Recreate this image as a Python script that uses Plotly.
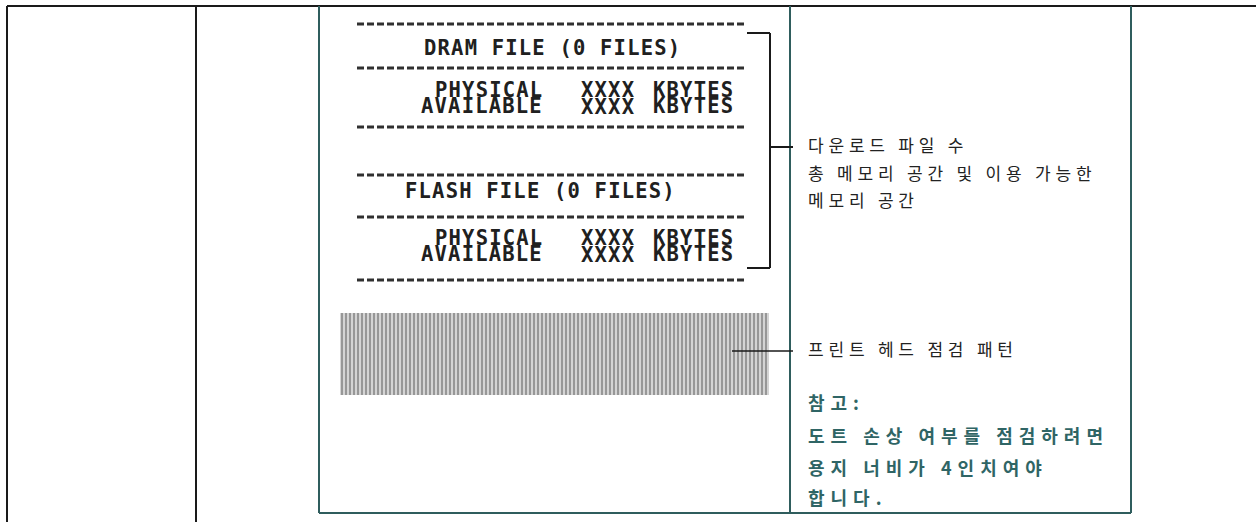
import plotly.graph_objects as go

W, H = 1256, 522

# ---- content ----
dram_title = "DRAM FILE (0 FILES)"
flash_title = "FLASH FILE (0 FILES)"
mem_labels = ["PHYSICAL", "AVAILABLE"]
mem_values = ["XXXX", "XXXX"]
mem_units = ["KBYTES", "KBYTES"]
desc_lines = ["다운로드 파일 수", "총 메모리 공간 및 이용 가능한", "메모리 공간"]
head_label = "프린트 헤드 점검 패턴"
note_title = "참고:"
note_lines = ["도트 손상 여부를 점검하려면", "용지 너비가 4인치여야", "합니다."]

TEAL = "#2f5d5d"
NOTE = "#2f6565"
INK = "#1a1a1a"

fig = go.Figure()

# print-head check pattern (striped block)
fig.add_trace(go.Scatter(
    x=[340, 769, 769, 340, 340], y=[313, 313, 395, 395, 313],
    mode="lines", fill="toself", line=dict(width=0, color="rgba(0,0,0,0)"),
    fillcolor="white",
    fillpattern=dict(shape="|", size=4, solidity=0.5, fgcolor="#5a5a5a", bgcolor="#d4d4d4"),
    hoverinfo="skip", showlegend=False))

shapes = []
def line(x0, y0, x1, y1, color=INK, width=2, dash=None):
    d = dict(type="line", xref="x", yref="y", x0=x0, y0=y0, x1=x1, y1=y1,
             line=dict(color=color, width=width))
    if dash:
        d["line"]["dash"] = dash
    shapes.append(d)

# table frame
line(7, 6, W, 6)
line(7, 6, 7, H)
line(196, 6, 196, H)
line(319, 6, 319, 513, TEAL)
line(790, 6, 790, 513, TEAL)
line(1131, 6, 1131, 513, TEAL)
line(319, 513, 1131, 513, TEAL)

# printout dashed separators
for yy in [24, 68, 127, 175, 217, 280]:
    line(357, yy, 746, yy, "#303030", 3, "7px,3px")

# bracket
line(747, 33, 770, 33)
line(770, 33, 770, 268)
line(747, 268, 770, 268)
line(770, 147, 793, 147)
# pointer from pattern
line(732, 351, 793, 351, INK, 1.5)

fig.update_layout(shapes=shapes)

ann = []
mono = dict(family="DejaVu Sans Mono", size=20.5, color="#202020")
def txt(x, y, s, font, xanchor="left"):
    ann.append(dict(x=x, y=y, xref="x", yref="y", text=s, showarrow=False,
                    xanchor=xanchor, yanchor="middle", font=font))

def sp(s, ls):
    return '<span style="letter-spacing:%spx">%s</span>' % (ls, s)

def mb(s):
    return "<b>" + sp(s, 1.2) + "</b>"

txt(552, 48, mb(dram_title), mono, "center")
txt(540, 191, mb(flash_title), mono, "center")
for ys in ([90, 106], [238, 254]):
    for i in range(2):
        txt(545, ys[i], mb(mem_labels[i]), mono, "right")
        txt(579, ys[i] + (1 if i else 0), mb(mem_values[i]), mono, "left")
        txt(651, ys[i], mb(mem_units[i]), mono, "left")

kr = dict(family="Noto Sans CJK KR", size=17, color="#222222")
krb = dict(family="Noto Sans CJK KR", size=18, color=NOTE)

for s, yy in zip(desc_lines, [144, 172, 199]):
    txt(806, yy, sp(s, 4.8), kr)
txt(806, 348, sp(head_label, 4.8), kr)
txt(806, 402, "<b>" + sp(note_title, 6) + "</b>", krb)
for s, yy in zip(note_lines, [435, 467, 497]):
    txt(806, yy, "<b>" + sp(s, 6) + "</b>", krb)

fig.update_layout(
    annotations=ann,
    width=W, height=H, margin=dict(l=0, r=0, t=0, b=0),
    paper_bgcolor="white", plot_bgcolor="white",
    xaxis=dict(range=[0, W], visible=False, fixedrange=True),
    yaxis=dict(range=[H, 0], visible=False, fixedrange=True),
    showlegend=False,
)
fig.write_html("out.html", config={"displayModeBar": False},
               post_script="document.body.style.margin='0';document.body.style.overflow='hidden';")
